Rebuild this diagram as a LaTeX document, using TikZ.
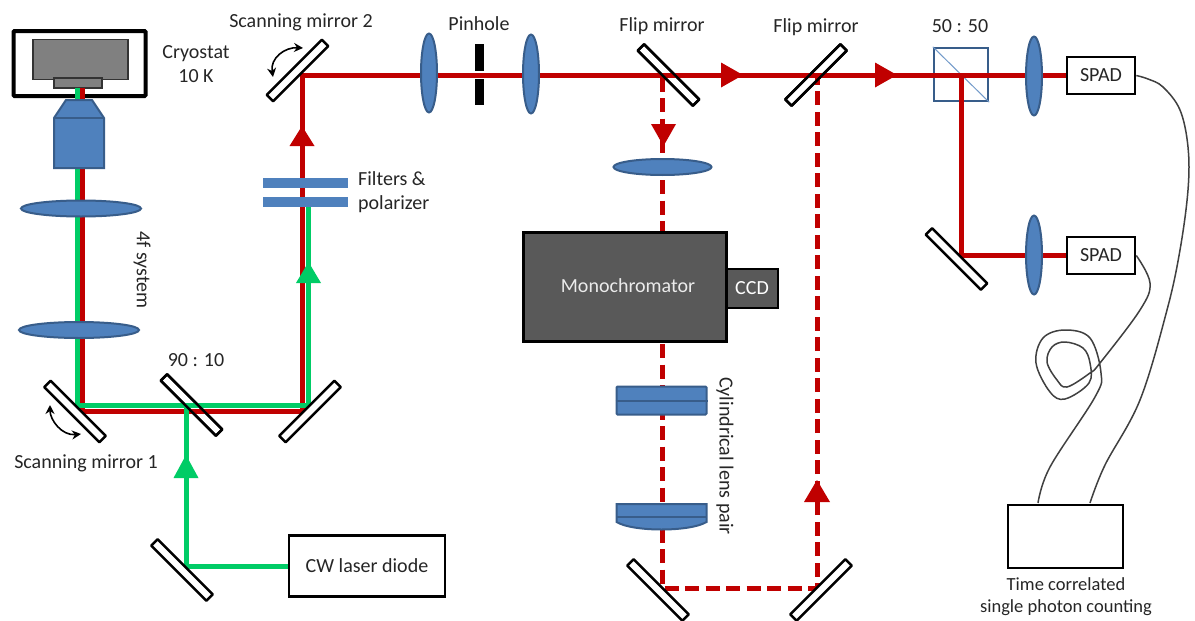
\documentclass[tikz,border=0pt]{standalone}
\usepackage{fontspec}
\setmainfont{Carlito}
\definecolor{beamred}{HTML}{C00000}
\definecolor{beamgreen}{HTML}{00CC66}
\definecolor{optblue}{HTML}{4F81BD}
\definecolor{optedge}{HTML}{385D8A}
\definecolor{txt}{HTML}{262626}
\definecolor{fibre}{HTML}{404040}
\usetikzlibrary{shapes.geometric,arrows.meta}
\tikzset{
  mirrordown/.style={draw=black,fill=white,line width=2.4pt,rectangle,rounded corners=0.5pt,minimum width=78pt,minimum height=9pt,inner sep=0pt,rotate=-45},
  mirrorup/.style={mirrordown,rotate=90},
  vlens/.style={ellipse,draw=optedge,fill=optblue,line width=2pt,minimum width=16pt,minimum height=79pt,inner sep=0pt},
  hlens/.style={ellipse,draw=optedge,fill=optblue,line width=2pt,minimum width=120pt,minimum height=16pt,inner sep=0pt},
  filterbar/.style={rectangle,fill=optblue,minimum width=85pt,minimum height=10pt,inner sep=0pt},
  blackbox/.style={rectangle,draw=black,fill=white,line width=2.6pt,inner sep=0pt,text=txt,font=\fontsize{20}{24}\selectfont},
  label/.style={inner sep=0pt,text=txt,align=center,font=\fontsize{20}{24}\selectfont},
  redbeam/.style={draw=beamred,line width=5pt},
  greenbeam/.style={draw=beamgreen,line width=5pt},
  dashbeam/.style={redbeam,dash pattern=on 14pt off 6.5pt},
  fibreline/.style={draw=fibre,line width=1.5pt,smooth,tension=0.6},
  swing/.style={draw=black,line width=1.6pt,{Stealth[length=9pt,width=9pt]}-{Stealth[length=9pt,width=9pt]}},
}
\begin{document}
\begin{tikzpicture}[x=1pt,y=-1pt]
\useasboundingbox (0,0) rectangle (1195,621);
\fill[white] (0,0) rectangle (1195,621);

% turning points of the beams
\coordinate (rsample) at (82,88);
\coordinate (gsample) at (77,88);
\coordinate (rs1) at (82,411);
\coordinate (gs1) at (77,405);
\coordinate (rfold) at (302,411);
\coordinate (gfold) at (308,405);
\coordinate (gfilter) at (308,200);
\coordinate (rs2) at (302,75);
\coordinate (split) at (186,405);
\coordinate (gbot) at (186,566);
\coordinate (f1turn) at (662.5,75);
\coordinate (f2turn) at (817,75);
\coordinate (bs) at (961,75);
\coordinate (bsturn) at (961,255);
\coordinate (dl) at (662.5,588);
\coordinate (dr) at (817,588);

% boxes and part-mirror bodies under the beams
\node[rectangle,draw=optedge,line width=2.4pt,minimum width=54pt,minimum height=53pt,inner sep=0pt] (cube) at (961,74.5) {};
\draw[draw=optblue!80,line width=1pt] (cube.north west) -- (cube.south east);
\node[mirrordown] (m9010) at (191.5,405) {};
\node[mirrordown] (mflipA) at (668.5,75) {};
\node[mirrorup] (mflipB) at (816,75) {};

\node[blackbox,minimum width=68pt,minimum height=37pt] (spadA) at (1101,75.5) {SPAD};
\node[blackbox,minimum width=68pt,minimum height=37pt] (spadB) at (1101,255.5) {SPAD};
\node[blackbox,minimum width=156pt,minimum height=61pt] (laser) at (367,566) {CW laser diode};
\node[blackbox,minimum width=115pt,minimum height=63pt] (tcspc) at (1065.5,536.5) {};

% beams
\draw[redbeam] (rsample) -- (rs1) -- (rfold) -- (rs2) -- (f1turn);
\draw[redbeam] (f1turn) -- (spadA.west |- f1turn);
\draw[redbeam] (bs) -- (bsturn) -- (spadB.west |- bsturn);
\draw[greenbeam] (gsample) -- (gs1) -- (gfold) -- (gfilter);
\draw[greenbeam] (laser.west |- gbot) -- (gbot) -- (split);
\draw[dashbeam] (f1turn) ++(0,2.5) -- (dl) -- (dr) -- (f2turn);

% arrowheads
\fill[beamred] (302,126) -- ++(12.5,20) -- ++(-25,0) -- cycle;
\fill[beamgreen] (308.5,262) -- ++(12.5,21) -- ++(-25,0) -- cycle;
\fill[beamgreen] (186,455) -- ++(12.5,23) -- ++(-25,0) -- cycle;
\fill[beamred] (743,75) -- ++(-22,-12.5) -- ++(0,25) -- cycle;
\fill[beamred] (897,75) -- ++(-22,-12.5) -- ++(0,25) -- cycle;
\fill[beamred] (663.5,146) -- ++(-12.5,-22) -- ++(25,0) -- cycle;
\fill[beamred] (817,480) -- ++(13,22) -- ++(-26,0) -- cycle;

% mirrors
\node[mirrorup] (ms2) at (297.5,70.5) {};
\node[mirrordown] (ms1) at (75,411.5) {};
\node[mirrorup] (mfold) at (310,411.5) {};
\node[mirrordown] (mlaser) at (182,570) {};
\node[mirrordown] (mbl) at (658,590) {};
\node[mirrorup] (mbr) at (821,590) {};
\node[mirrordown] (mspad) at (956.5,259) {};
% outlines of the part mirrors, over the beams
\node[mirrordown,fill=none] (m9010top) at (191.5,405) {};
\node[mirrordown,fill=none] (mflipAtop) at (668.5,75) {};
\node[mirrorup,fill=none] (mflipBtop) at (816,75) {};

% cryostat and objective
\node[rectangle,draw=black,line width=4pt,rounded corners=1pt,fill=white,minimum width=132pt,minimum height=65pt,inner sep=0pt] (cryo) at (79.5,63.5) {};
\node[rectangle,draw=black!80,fill=black!50,line width=1.6pt,minimum width=95pt,minimum height=40pt,inner sep=0pt] (cold) at (80.5,59.5) {};
\node[rectangle,draw=black!80,fill=black!50,line width=1.6pt,minimum width=48pt,minimum height=10pt,inner sep=0pt] (sample) at (78,83) {};
\draw[beamgreen,line width=5pt] (gsample) -- (77,101);
\draw[beamred,line width=5pt] (rsample) -- (82,101);
\fill[optblue,draw=optedge,line width=2pt] (66,100) -- (92,100) -- (104,118) -- (104,168) -- (54,168) -- (54,118) -- cycle;
\draw[optedge,line width=2pt] (54,118) -- (104,118);

% lenses
\node[hlens] (lensA) at (81,208.5) {};
\node[hlens] (lensB) at (79,330) {};
\node[vlens] (lensC) at (429,73) {};
\node[vlens] (lensD) at (531,74) {};
\node[hlens,minimum width=98pt] (lensE) at (662.5,167) {};
\node[vlens] (lensF) at (1034,76) {};
\node[vlens] (lensG) at (1034,255) {};

% filters and pinhole
\node[filterbar] (filtA) at (305.5,183) {};
\node[filterbar] (filtB) at (305.5,201.5) {};
\node[rectangle,fill=black,minimum width=8.5pt,minimum height=27pt,inner sep=0pt] (pinA) at (479.5,57.5) {};
\node[rectangle,fill=black,minimum width=8.5pt,minimum height=26pt,inner sep=0pt] (pinB) at (479.5,92) {};

% monochromator
\node[rectangle,draw=black,fill=black!65,line width=2.6pt,minimum width=52pt,minimum height=39pt,inner sep=0pt,text=white,font=\fontsize{20}{24}\selectfont] (ccd) at (752,288.5) {CCD};
\node[rectangle,draw=black,fill=black!65,line width=3pt,minimum width=203pt,minimum height=109pt,inner sep=0pt] (mono) at (624.5,286.5) {};
\node[label,text=white!92!black] (monotxt) at (628,286) {Monochromator};

% cylindrical lenses
\node[rectangle,draw=optedge,fill=optblue,line width=2pt,rounded corners=1pt,minimum width=90pt,minimum height=28pt,inner sep=0pt] (cylA) at (661.5,400.5) {};
\draw[optedge,line width=2pt] (cylA.west) -- (cylA.east);
\filldraw[draw=optedge,fill=optblue,line width=2pt] (616.5,504) -- (706.5,504) -- (706.5,522) .. controls (690,532) and (633,532) .. (616.5,522) -- cycle;
\draw[optedge,line width=2pt] (616.5,517) -- (706.5,517);

% swing arrows
\coordinate (swAa) at (303,48);
\coordinate (swAb) at (273,77);
\coordinate (swBa) at (50,405);
\coordinate (swBb) at (81,434);
\draw[swing] (swAa) .. controls (285,47) and (270,58) .. (swAb);
\draw[swing] (swBa) .. controls (50,420) and (62,436) .. (swBb);

% fibres
\draw[fibreline] plot coordinates {(spadA.east) (1148,79) (1163,87) (1180,110) (1188,147) (1188,190) (1180,250) (1167,310) (1140,400) (1105,465) (1090,503)};
\draw[fibreline] plot coordinates {(spadB.east) (1150,283) (1140,310) (1100,363) (1090,373) (1067,387) (1057,380) (1047,362) (1052,347) (1065,342) (1083,348) (1090,363) (1089,383) (1065,399) (1050,392) (1036,363) (1043,338) (1065,330) (1090,338) (1101,373) (1095,397) (1050,467) (1038,503)};

% labels
\node[label] (tcryo) at (196,64) {Cryostat\\10 K};
\node[label] (tsm2) at (301,22) {Scanning mirror 2};
\node[label] (tsm1) at (86,463) {Scanning mirror 1};
\node[label] (t9010) at (196,360) {90 : 10};
\node[label,align=left,anchor=west] (tfilt) at (358,192) {Filters \&\\polarizer};
\node[label] (tpin) at (479,24) {Pinhole};
\node[label] (tflipA) at (662,26) {Flip mirror};
\node[label] (tflipB) at (816,27) {Flip mirror};
\node[label] (t5050) at (960,26) {50 : 50};
\node[label,rotate=-90] (t4f) at (142,270) {4f system};
\node[label,rotate=-90] (tcyl) at (725,456) {Cylindrical lens pair};
\node[label,font=\fontsize{18.5}{22}\selectfont] (ttcspc) at (1066,597) {Time correlated\\single photon counting};
\end{tikzpicture}
\end{document}
